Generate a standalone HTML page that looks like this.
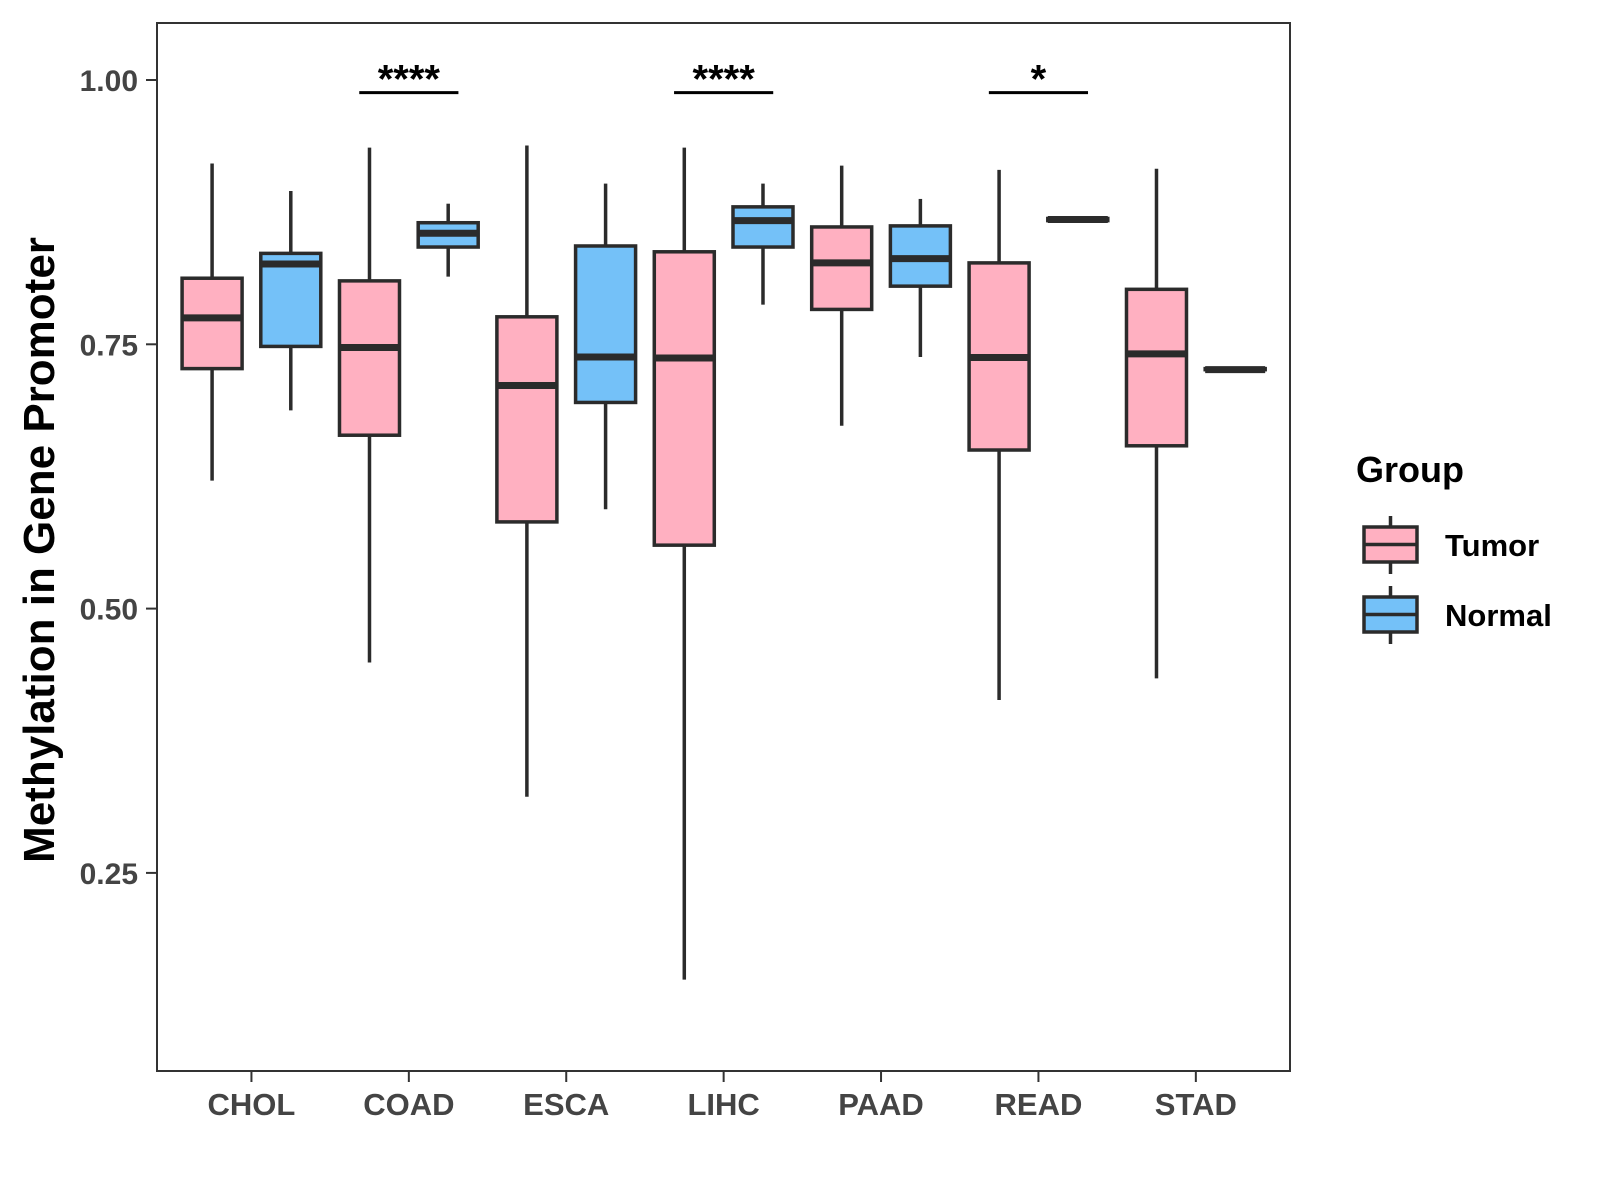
<!DOCTYPE html>
<html><head><meta charset="utf-8"><style>
html,body{margin:0;padding:0;background:#fff}
svg{display:block;font-family:"Liberation Sans",Arial,sans-serif}
</style></head><body>
<svg id="chart" width="1600" height="1200" viewBox="0 0 1600 1200">
<rect x="157" y="23" width="1133" height="1048" fill="#fff" stroke="#333" stroke-width="2"/>
<g id="marks"></g>
<g id="axes"></g>
<text x="0" y="0" transform="translate(54,550) rotate(-90)" text-anchor="middle" font-size="44" font-weight="bold" fill="#000">Methylation in Gene Promoter</text>
<g>
<text x="1356" y="482" font-size="36" font-weight="bold" fill="#000">Group</text>
<g>
<line x1="1390.5" y1="516" x2="1390.5" y2="574" stroke="#2b2b2b" stroke-width="3.5"/>
<rect x="1364" y="527" width="53" height="35" fill="#FFB0C1" stroke="#2b2b2b" stroke-width="3.5"/>
<line x1="1364" y1="544.5" x2="1417" y2="544.5" stroke="#2b2b2b" stroke-width="3.5"/>
<text x="1445" y="556" font-size="31" font-weight="bold" fill="#000">Tumor</text>
</g>
<g>
<line x1="1390.5" y1="586" x2="1390.5" y2="644" stroke="#2b2b2b" stroke-width="3.5"/>
<rect x="1364" y="597" width="53" height="35" fill="#74C1F8" stroke="#2b2b2b" stroke-width="3.5"/>
<line x1="1364" y1="614.5" x2="1417" y2="614.5" stroke="#2b2b2b" stroke-width="3.5"/>
<text x="1445" y="626" font-size="31" font-weight="bold" fill="#000">Normal</text>
</g>
</g>
</svg>
<script>
const categories = ["CHOL","COAD","ESCA","LIHC","PAAD","READ","STAD"];
const tumorLow  = [0.621,0.449,0.322,0.149,0.673,0.4135,0.434];
const tumorQ1   = [0.727,0.664,0.582,0.560,0.783,0.650,0.654];
const tumorMed  = [0.775,0.747,0.711,0.737,0.827,0.7375,0.741];
const tumorQ3   = [0.8125,0.810,0.776,0.8375,0.861,0.827,0.802];
const tumorHigh = [0.921,0.936,0.938,0.936,0.919,0.915,0.916];
const normalLow  = [0.6875,0.814,0.594,0.7875,0.738,0.868,0.726];
const normalQ1   = [0.748,0.842,0.695,0.842,0.805,0.867,0.726];
const normalMed  = [0.826,0.855,0.738,0.867,0.831,0.868,0.726];
const normalQ3   = [0.836,0.865,0.843,0.880,0.862,0.869,0.727];
const normalHigh = [0.895,0.883,0.902,0.902,0.8875,0.869,0.727];
const yTicks = [0.25,0.50,0.75,1.00];
const yTickLabels = ["0.25","0.50","0.75","1.00"];
const sigCategories = ["COAD","LIHC","READ"];
const sigLabels = ["****","****","*"];
const sigLevel = 0.988;

const NS="http://www.w3.org/2000/svg";
const X0=157, UNIT=157.4;
function xScale(i){return X0+(i+0.6)*UNIT;}
function yScale(v){return 80+(1-v)*1057.2;}
function mk(tag,attrs,parent){const e=document.createElementNS(NS,tag);for(const k in attrs)e.setAttribute(k,attrs[k]);parent.appendChild(e);return e;}
const marks=document.getElementById('marks'), axes=document.getElementById('axes');
const OFF=0.25*UNIT, HW=30;
function drawBox(cx,lo,q1,md,q3,hi,fill,name){
  const g=mk('g',{},marks);
  
  
  mk('line',{x1:cx,x2:cx,y1:yScale(hi),y2:yScale(q3),stroke:'#2b2b2b','stroke-width':3.5},g);
  mk('line',{x1:cx,x2:cx,y1:yScale(q1),y2:yScale(lo),stroke:'#2b2b2b','stroke-width':3.5},g);
  const h=Math.max(yScale(q1)-yScale(q3),0.01);
  mk('rect',{x:cx-HW,y:yScale(q3),width:2*HW,height:h,fill:fill,stroke:'#2b2b2b','stroke-width':3.5},g);
  mk('line',{x1:cx-HW,x2:cx+HW,y1:yScale(md),y2:yScale(md),stroke:'#2b2b2b','stroke-width':7},g);
}
categories.forEach((c,i)=>{
  const cx=xScale(i);
  drawBox(cx-OFF,tumorLow[i],tumorQ1[i],tumorMed[i],tumorQ3[i],tumorHigh[i],'#FFB0C1','box-'+c.toLowerCase()+'-tumor');
  drawBox(cx+OFF,normalLow[i],normalQ1[i],normalMed[i],normalQ3[i],normalHigh[i],'#74C1F8','box-'+c.toLowerCase()+'-normal');
  const t=mk('line',{x1:cx,x2:cx,y1:1071,y2:1082,stroke:'#333','stroke-width':2},axes);
  
  
  const tx=mk('text',{x:cx,y:1115,'text-anchor':'middle','font-size':31,'font-weight':'bold',fill:'#444'},axes);
  tx.textContent=c;
  
  
});
yTicks.forEach((v,i)=>{
  const y=yScale(v);
  const t=mk('line',{x1:146,x2:157,y1:y,y2:y,stroke:'#333','stroke-width':2},axes);
  
  
  const tx=mk('text',{x:138,y:y+11,'text-anchor':'end','font-size':30,'font-weight':'bold',fill:'#444'},axes);
  tx.textContent=yTickLabels[i];
  
  
});
sigCategories.forEach((c,k)=>{
  const cx=xScale(categories.indexOf(c));
  const y=yScale(sigLevel);
  const l=mk('line',{x1:cx-0.315*UNIT,x2:cx+0.315*UNIT,y1:y,y2:y,stroke:'#000','stroke-width':3},marks);
  
  
  const tx=mk('text',{x:cx,y:y+0,'text-anchor':'middle','font-size':40,'font-weight':'bold',fill:'#000'},marks);
  tx.textContent=sigLabels[k];
  
  
});
</script>
</body></html>
